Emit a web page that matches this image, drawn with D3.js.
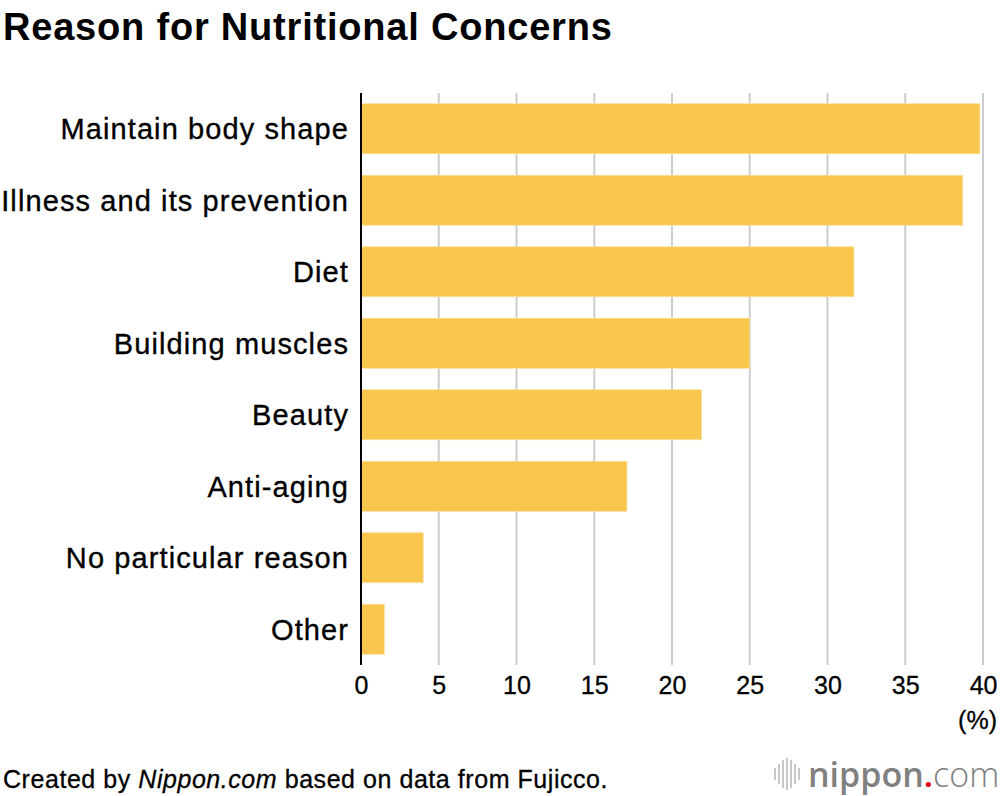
<!DOCTYPE html>
<html><head><meta charset="utf-8">
<script src="https://cdn.jsdelivr.net/npm/d3@7/dist/d3.min.js"></script>
<style>body{margin:0;background:#fff;}svg{display:block;font-family:"Liberation Sans",Arial,sans-serif;}</style>
</head><body>
<svg id="c" width="1000" height="796"></svg>
<script>
const categories = ["Maintain body shape","Illness and its prevention","Diet","Building muscles","Beauty","Anti-aging","No particular reason","Other"];
const values = [39.8, 38.7, 31.7, 25.0, 21.9, 17.1, 4.0, 1.5];
const ticks = [0,5,10,15,20,25,30,35,40];

const svg = d3.select("#c");
const x = d3.scaleLinear().domain([0,40]).range([361,983]);
const y = d3.scaleBand().domain(categories).range([93,665]).paddingInner(0.3).paddingOuter(0.15);

svg.append("text").attr("x",3).attr("y",40).attr("font-size",38).attr("letter-spacing",0.8).attr("font-weight","bold").attr("fill","#000").text("Reason for Nutritional Concerns");

svg.append("g").selectAll("line").data(ticks.slice(1)).join("line")
  .attr("x1",d=>x(d)).attr("x2",d=>x(d)).attr("y1",93).attr("y2",665)
  .attr("stroke","#cccccc").attr("stroke-width",2);

svg.append("g").selectAll("rect").data(values).join("rect")
  .attr("x",x(0)).attr("y",(d,i)=>y(categories[i]))
  .attr("width",d=>x(d)-x(0)).attr("height",y.bandwidth())
  .attr("fill","#f8c54d").attr("stroke","#fbe0a0").attr("stroke-width",0.8);

svg.append("line").attr("x1",x(0)).attr("x2",x(0)).attr("y1",93).attr("y2",665).attr("stroke","#000").attr("stroke-width",2);

svg.append("g").selectAll("text").data(categories).join("text")
  .attr("x",349).attr("y",d=>y(d)+y.bandwidth()/2).attr("dy","0.36em")
  .attr("text-anchor","end").attr("font-size",29).attr("letter-spacing",1.1)
  .attr("fill","#000").attr("stroke","#000").attr("stroke-width",0.35).text(d=>d);

const xa = svg.append("g").attr("transform","translate(0,665)")
  .call(d3.axisBottom(x).tickValues(ticks).tickSize(0).tickPadding(11));
xa.select(".domain").remove();
xa.selectAll("text").attr("font-size",25).attr("fill","#000").attr("stroke","#000").attr("stroke-width",0.3)
  .attr("font-family","Liberation Sans, Arial, sans-serif")
  .attr("text-anchor",d=>d===40?"end":"middle").attr("dx",d=>d===40?"14":"0");

svg.append("text").attr("x",997).attr("y",729).attr("text-anchor","end").attr("font-size",25).attr("stroke","#000").attr("stroke-width",0.3).text("(%)");

const foot = svg.append("text").attr("x",3).attr("y",788).attr("font-size",25).attr("letter-spacing",0.55).attr("fill","#000").attr("stroke","#000").attr("stroke-width",0.3);
foot.append("tspan").text("Created by ");
foot.append("tspan").attr("font-style","italic").text("Nippon.com");
foot.append("tspan").text(" based on data from Fujicco.");

// logo
const lg = svg.append("g").attr("transform","translate(775,774)");
const bars=[[0,6],[4,10],[8,14],[12,16],[16,14],[20,10],[24,6]];
lg.selectAll("line").data(bars).join("line").attr("x1",d=>d[0]).attr("x2",d=>d[0])
  .attr("y1",d=>-d[1]).attr("y2",d=>d[1]).attr("stroke","#c8c8c8").attr("stroke-width",2);
const lt = svg.append("text").attr("x",808).attr("y",787).attr("font-size",34).attr("font-family","Open Sans, DejaVu Sans, sans-serif").attr("fill","#808080");
lt.append("tspan").attr("font-weight","600").text("nippon");
lt.append("tspan").attr("fill","#e60012").attr("font-weight","600").text(".");
lt.append("tspan").attr("font-weight","300").text("com");
</script>
</body></html>
